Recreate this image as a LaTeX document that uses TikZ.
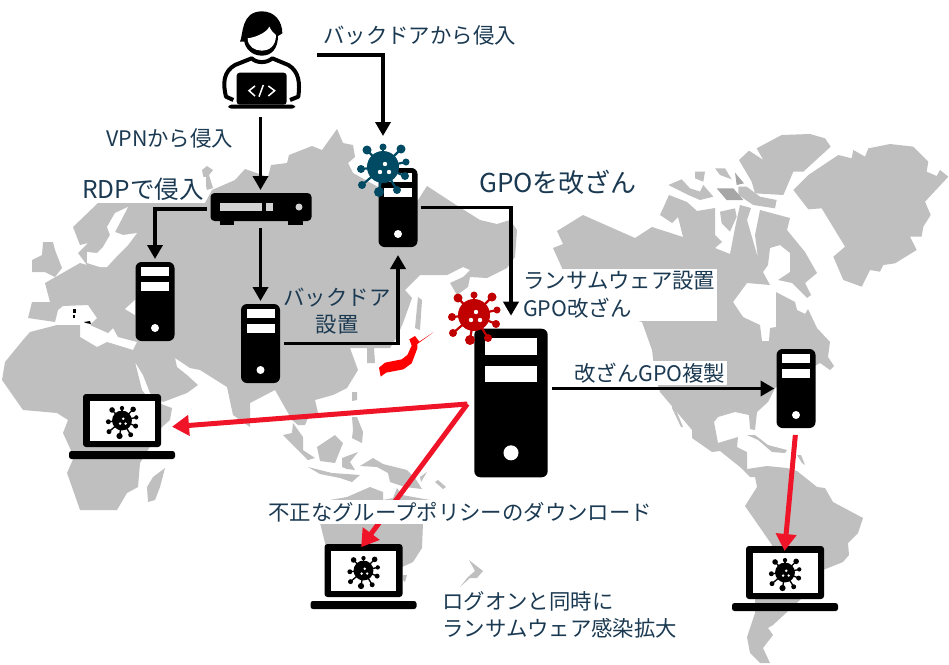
\documentclass[tikz,border=0pt]{standalone}
\usepackage{fontspec}
\setmainfont{Noto Sans CJK JP}
\usetikzlibrary{arrows.meta, positioning}
\definecolor{landgrey}{HTML}{BFBFBF}
\definecolor{landdark}{HTML}{A6A6A6}
\definecolor{labelnavy}{HTML}{1B3A52}
\definecolor{virblue}{HTML}{004A63}
\definecolor{virred}{HTML}{C00000}
\definecolor{arrowred}{HTML}{F01428}
\tikzset{
  land/.style={fill=landgrey, draw=none},
  lbl/.style={text=labelnavy, inner sep=0pt, font=\fontsize{21.4}{27}\selectfont},
  whitebg/.style={fill=white, inner xsep=2pt, inner ysep=0pt, minimum height=24pt},
  blk/.style={line width=3.5pt, -{Triangle[length=14pt,width=15pt]}},
  redarr/.style={line width=5pt, draw=arrowred, -{Triangle[length=17pt,width=20pt]}},
  hidden/.style={inner sep=0pt, outer sep=0pt},
  server/.pic={
    \node[hidden, fill=black, rounded corners=6pt, minimum width={39pt*#1}, minimum height={79pt*#1}] (-box) {};
    \begin{scope}[scale=#1]
      \fill[white] (-14,-34.5) rectangle (14,-25.5);
      \fill[white] (-14,-19.5) rectangle (14,-11);
      \fill[white] (0,26.5) circle (4);
    \end{scope}
  },
  router/.pic={
    \node[hidden, minimum width=101pt, minimum height=32pt] (-box) {};
    \fill[black, rounded corners=4pt] (-50.5,-16) rectangle (50.5,12);
    \fill[black] (-41,10) rectangle (-27,16);
    \fill[black] (27,10) rectangle (42,16);
    \fill[landgrey!70!white] (-41,-6) rectangle (1,2);
    \fill[landgrey!70!white] (5,-6) rectangle (12,2);
    \fill[landgrey!70!white] (38,-2) circle (3.5);
  },
  hacker/.pic={
    \node[hidden, minimum width=76pt, minimum height=108pt] (-box) {};
    \begin{scope}[scale=1/3, shift={(-186,-165)}]
      \draw[line width=4pt, line join=round, fill=white] (100,300) -- (78,290) .. controls (68,250) and (70,215) .. (105,195) -- (155,175) .. controls (170,190) and (200,190) .. (217,175) -- (265,195) .. controls (298,215) and (300,250) .. (295,290) -- (270,300);
      \fill[black] (186,34) .. controls (225,34) and (247,65) .. (247,100) -- (234,108) .. controls (234,145) and (215,167) .. (186,167) .. controls (155,167) and (136,145) .. (133,125) -- (120,125) .. controls (130,105) and (122,34) .. (186,34) -- cycle;
      \fill[white] (143,115) .. controls (165,112) and (198,100) .. (208,80) .. controls (215,95) and (222,100) .. (228,105) .. controls (228,140) and (205,152) .. (186,152) .. controls (165,152) and (143,140) .. (143,115) -- cycle;
      \fill[black, rounded corners=3pt] (110,218) rectangle (260,314);
      \fill[black, rounded corners=3pt] (85,314) rectangle (285,326);
      \draw[white, line width=1.5pt] (165,258) -- (147,272) -- (165,288);
      \draw[white, line width=1.5pt] (205,258) -- (224,272) -- (205,288);
      \draw[white, line width=1.5pt] (190,255) -- (177,290);
    \end{scope}
  },
  pics/virus/.style 2 args={code={
    \node[hidden, circle, minimum size={54pt*#1}] (-box) {};
    \begin{scope}[scale=#1]
      \foreach \bx/\by/\br in {-16/-17/4.5, 0/-20/3.5, 18/-18/4.5, 23/-5/3.5, 22/9/4, 14/23/4, -4/25/5, -21/18/4, -22/2/4}{
        \draw[#2, line width={2.2pt*#1}] (0,0) -- (\bx,\by);
        \fill[#2] (\bx,\by) circle (\br);
      }
      \fill[#2] (0,0) circle (16);
      \fill[white] (2,-3) circle (2.2);
      \fill[white] (-3,5) circle (2.2);
      \fill[white] (6,5) circle (2.2);
    \end{scope}
  }},
  laptop/.pic={
    \node[hidden, minimum width=106pt, minimum height=65pt] (-box) {};
    \fill[black, rounded corners=3pt] (-39,20.5) -- (-39,-32.5) -- (39,-32.5) -- (39,20.5) -- cycle;
    \fill[white] (-32.5,-25.5) rectangle (32.5,14.5);
    \fill[black, rounded corners=2.5pt] (-53,24.5) -- (-53,32.5) -- (53,32.5) -- (53,24.5) -- cycle;
    \pic (-bug) at (0,-6) {virus={0.62}{black}};
  }
}

\begin{document}
\begin{tikzpicture}[x=1pt, y=-1pt]
  \useasboundingbox (0,0) rectangle (949,664);
  % map
  \fill[land] (235,180) -- (245,169) -- (268,177) -- (271,165) -- (287,163) -- (289,155) -- (312,146) -- (322,150) -- (337,129) -- (343,143) -- (353,145) -- (355,157) -- (348,163) -- (353,173) -- (378,187) -- (418,200) -- (427,186) -- (453,203) -- (480,220) -- (497,224) -- (510,220) -- (517,230) -- (515,257) -- (507,268) -- (487,278) -- (470,277) -- (468,287) -- (457,295) -- (450,283) -- (463,277) -- (470,270) -- (463,267) -- (447,275) -- (420,275) -- (405,290) -- (412,298) -- (403,323) -- (397,337) -- (390,348) -- (374,348) -- (375,363) -- (367,363) -- (367,348) -- (350,348) -- (358,370) -- (347,388) -- (333,395) -- (315,400) -- (318,413) -- (308,418) -- (305,425) -- (298,425) -- (292,420) -- (275,390) -- (250,403) -- (250,427) -- (233,415) -- (227,387) -- (200,370) -- (190,368) -- (175,358) -- (177,367) -- (187,375) -- (198,385) -- (187,393) -- (163,402) -- (150,393) -- (143,375) -- (135,362) -- (142,390) -- (150,400) -- (172,408) -- (170,420) -- (162,427) -- (140,463) -- (138,487) -- (127,493) -- (117,510) -- (80,510) -- (72,487) -- (67,473) -- (74,457) -- (63,433) -- (68,420) -- (57,413) -- (23,410) -- (2,380) -- (5,362) -- (23,340) -- (30,332) -- (57,325) -- (80,325) -- (80,337) -- (97,347) -- (107,342) -- (133,350) -- (137,342) -- (118,337) -- (113,328) -- (108,333) -- (90,325) -- (97,318) -- (88,305) -- (63,306) -- (58,310) -- (55,322) -- (28,318) -- (32,302) -- (50,302) -- (45,283) -- (80,263) -- (87,265) -- (78,253) -- (88,243) -- (80,245) -- (73,227) -- (98,203) -- (205,203) -- (212,190) -- cycle;
  \fill[white] (128,207) -- (115,213) -- (107,227) -- (110,235) -- (103,247) -- (97,253) -- (87,252) -- (87,263) -- (100,267) -- (107,267) -- (118,255) -- (128,245) -- (137,233) -- (123,235) -- (115,232) -- cycle;
  \fill[white] (125,309) -- (135,300) -- (135,315) -- cycle;
  \fill[land] (32,260) -- (42,255) -- (43,242) -- (53,242) -- (55,250) -- (62,268) -- (55,277) -- (45,272) -- (32,272) -- cycle;
  \fill[land] (202,170) -- (207,166) -- (213,170) -- (209,175) -- (213,188) -- (207,190) -- (203,175) -- cycle;
  \fill[land] (165,468) -- (153,477) -- (147,487) -- (148,502) -- (155,500) -- (160,487) -- cycle;
  \fill[black] (73,309) rectangle (75.5,313);
  \fill[black] (72.5,315) rectangle (75,318);
  \fill[black] (84,322) -- (90,321) -- (91,324) -- (86,323) -- cycle;
  %
  \fill[land] (352,392) -- (357,392) -- (357,400) -- (352,401) -- cycle;
  \fill[land] (352,417) -- (357,417) -- (363,432) -- (362,443) -- (352,438) -- (353,430) -- cycle;
  \fill[land] (317,447) -- (335,435) -- (343,443) -- (335,463) -- (320,461) -- cycle;
  \fill[land] (342,458) -- (358,452) -- (350,462) -- (355,470) -- (347,469) -- (342,467) -- cycle;
  \fill[land] (283,435) -- (292,433) -- (293,423) -- (303,437) -- (303,450) -- (315,458) -- (308,460) -- cycle;
  \fill[land] (308,467) -- (332,473) -- (360,475) -- (352,482) -- (340,478) -- (320,474) -- cycle;
  \fill[land] (360,466) -- (373,458) -- (383,464) -- (407,470) -- (415,478) -- (422,489) -- (405,487) -- (390,482) -- (388,473) -- (377,467) -- cycle;
  \fill[land] (420,477) -- (427,472) -- (421,482) -- cycle;
  \fill[land] (435,482) -- (438,480) -- (446,487) -- (443,489) -- cycle;
  \fill[land] (347,497) -- (370,487) -- (383,492) -- (383,500) -- (393,498) -- (397,488) -- (402,495) -- (430,500) -- (423,523) -- (422,548) -- (413,562) -- (400,568) -- (330,560) -- (325,543) -- (320,523) -- (330,500) -- cycle;
  \fill[land] (403,575) -- (407,575) -- (405,582) -- (403,580) -- cycle;
  \fill[land] (469,560) -- (483,571) -- (477,578) -- (470,578) -- (460,587) -- (468,577) -- (475,571) -- cycle;
  \fill[land] (418,297) -- (422,300) -- (420,330) -- (415,328) -- (417,307) -- cycle;
  %
  \fill[land] (557,231) -- (583,215) -- (635,238) -- (652,227) -- (683,237) -- (678,217) -- (672,223) -- (660,215) -- (669,195) -- (687,202) -- (697,211) -- (715,208) -- (715,235) -- (722,242) -- (715,248) -- (730,254) -- (735,228) -- (740,205) -- (751,208) -- (747,220) -- (758,258) -- (755,235) -- (760,210) -- (790,218) -- (787,230) -- (805,252) -- (817,273) -- (805,283) -- (811,295) -- (807,298) -- (792,283) -- (778,280) -- (790,272) -- (790,253) -- (780,245) -- (770,248) -- (768,265) -- (763,272) -- (770,285) -- (747,283) -- (733,302) -- (743,317) -- (760,325) -- (762,341) -- (769,341) -- (770,328) -- (776,327) -- (776,292) -- (795,302) -- (797,310) -- (805,314) -- (808,309) -- (817,328) -- (830,342) -- (828,357) -- (834,366) -- (830,370) -- (820,363) -- (790,380) -- (775,388) -- (768,402) -- (757,412) -- (755,430) -- (750,429) -- (749,415) -- (735,412) -- (718,417) -- (714,422) -- (718,443) -- (738,437) -- (737,447) -- (747,452) -- (747,469) -- (767,466) -- (787,468) -- (797,471) -- (817,487) -- (825,488) -- (833,502) -- (863,518) -- (858,533) -- (848,543) -- (849,555) -- (843,562) -- (823,570) -- (800,600) -- (773,625) -- (768,628) -- (773,635) -- (763,648) -- (770,663) -- (760,663) -- (750,653) -- (747,637) -- (755,613) -- (755,600) -- (772,545) -- (745,506) -- (757,487) -- (755,477) -- (750,477) -- (740,467) -- (720,451) -- (712,452) -- (692,438) -- (692,430) -- (660,392) -- (655,375) -- (652,350) -- (642,322) -- (560,300) -- (562,268) -- (553,248) -- (563,244) -- cycle;
  \fill[land] (673,403) -- (683,427) -- (681,427) -- (672,408) -- cycle;
  \fill[land] (747,435) -- (755,435) -- (768,445) -- (787,450) -- (785,453) -- (772,452) -- (758,440) -- cycle;
  \fill[land] (797,455) -- (801,455) -- (805,465) -- (802,463) -- cycle;
  %
  \begin{scope}[shift={(600,120)}, scale=1/3]
    \fill[land] (580,210) -- (625,165) -- (715,105) -- (755,115) -- (760,90) -- (795,110) -- (805,85) -- (870,72) -- (940,80) -- (985,125) -- (980,155) -- (1010,168) -- (1020,150) -- (1045,170) -- (975,245) -- (992,285) -- (970,320) -- (965,350) -- (930,350) -- (950,390) -- (885,430) -- (850,435) -- (840,455) -- (810,450) -- (785,500) -- (730,480) -- (700,410) -- (735,380) -- (665,265) -- (625,268) -- cycle;
    \fill[land] (417,120) -- (447,92) -- (490,120) -- (470,85) -- (545,45) -- (630,42) -- (675,55) -- (692,80) -- (610,155) -- (580,155) -- (550,225) -- (465,220) -- (455,185) -- cycle;
    \fill[land] (205,195) -- (245,178) -- (270,205) -- (300,215) -- (310,195) -- (340,230) -- (300,240) -- (265,225) -- cycle;
    \fill[land] (345,145) -- (375,145) -- (395,178) -- (360,165) -- cycle;
    \fill[land] (285,155) -- (315,155) -- (310,185) -- (285,175) -- cycle;
    \fill[land] (415,200) -- (440,200) -- (480,230) -- (530,240) -- (525,265) -- (460,255) -- (415,225) -- cycle;
    \fill[land] (360,275) -- (405,265) -- (410,290) -- (390,335) -- (365,310) -- cycle;
    \fill[landdark] (350,205) -- (400,205) -- (430,240) -- (380,240) -- cycle;
    \fill[landdark] (405,158) -- (432,190) -- (410,195) -- cycle;
  \end{scope}
  % Japan
  \begin{scope}[shift={(360,280)}, scale=1/3]
    \fill[red] (220,157) -- (178,185) -- (165,168) -- (148,178) -- (155,197) -- (142,225) -- (125,238) -- (75,248) -- (57,263) -- (62,290) -- (78,278) -- (130,268) -- (155,250) -- (172,205) -- (172,192) -- cycle;
  \end{scope}
  % icons
  \pic (dev) at (262,55) {hacker};
  \pic (rtr) at (261,209) {router};
  \pic (srvA) at (155,301.5) {server=1};
  \pic (srvB) at (260.5,343.5) {server=1};
  \pic (srvC) at (398,207.5) {server=1};
  \pic (srvD) at (511,403) {server=1.88};
  \pic (srvE) at (796,388.5) {server=1};
  \pic (virC) at (383,167) {virus={1}{virblue}};
  \pic (virD) at (474,315) {virus={1}{virred}};
  \pic (pcA) at (122,426.5) {laptop};
  \pic (pcB) at (363.5,576.5) {laptop};
  \pic (pcC) at (785,578.5) {laptop};
  % black arrows
  \draw[blk, shorten <=17pt, shorten >=4pt] (dev-box.east) -| (virC-box.north);
  \draw[blk, shorten <=8pt, shorten >=3pt] (srvB-box.north |- dev-box.south) -- (srvB-box.north |- rtr-box.north);
  \draw[blk, shorten <=3pt, shorten >=3pt] (srvB-box.north |- rtr-box.south) -- (srvB-box.north);
  \draw[blk, shorten <=4pt, shorten >=3pt] (rtr-box.west) -| (srvA-box.north);
  \draw[blk, shorten <=4pt, shorten >=8pt] (srvB-box.east) -| (srvC-box.south);
  \draw[blk, shorten <=3pt, shorten >=13pt] (srvC-box.east) -| (srvD-box.north);
  \draw[blk, shorten <=4pt, shorten >=2pt] (srvD-box.east |- srvE-box.west) -- (srvE-box.west);
  % red arrows
  \draw[redarr, shorten >=-3pt] ([xshift=-7pt,yshift=-1pt]srvD-box.west) -- (pcA-box.east);
  \draw[redarr, shorten >=-4pt] ([xshift=-7pt,yshift=-1pt]srvD-box.west) -- (pcB-box.north);
  \draw[redarr, shorten <=7pt, shorten >=-5pt] (srvE-box.south) -- (pcC-box.north);
  % labels
  \node[lbl, anchor=west] (txtBackdoor) at (323,35) {バックドアから侵入};
  \node[lbl, anchor=west] (txtVpn) at (106,138) {VPNから侵入};
  \node[lbl, anchor=west, whitebg, font=\fontsize{24.5}{28}\selectfont] (txtRdp) at (80,189) {RDPで侵入};
  \node[lbl, anchor=west, font=\fontsize{26}{30}\selectfont] (txtGpo) at (479,182) {GPOを改ざん};
  \node[lbl, anchor=west, fill=white, align=left, text width=191pt, inner xsep=3pt, minimum height=52pt, font=\fontsize{21.4}{28}\selectfont] (txtRansom) at (520,295) {ランサムウェア設置\\GPO改ざん};
  \node[lbl, align=center] (txtPlant) at (337,311.5) {バックドア\\設置};
  \node[lbl, anchor=west, whitebg] (txtCopy) at (572,373) {改ざんGPO複製};
  \node[lbl, anchor=west, whitebg] (txtDl) at (266,512) {不正なグループポリシーのダウンロード};
  \node[lbl, anchor=west, align=left] (txtLogon) at (442,614.5) {ログオンと同時に\\ランサムウェア感染拡大};
\end{tikzpicture}
\end{document}
